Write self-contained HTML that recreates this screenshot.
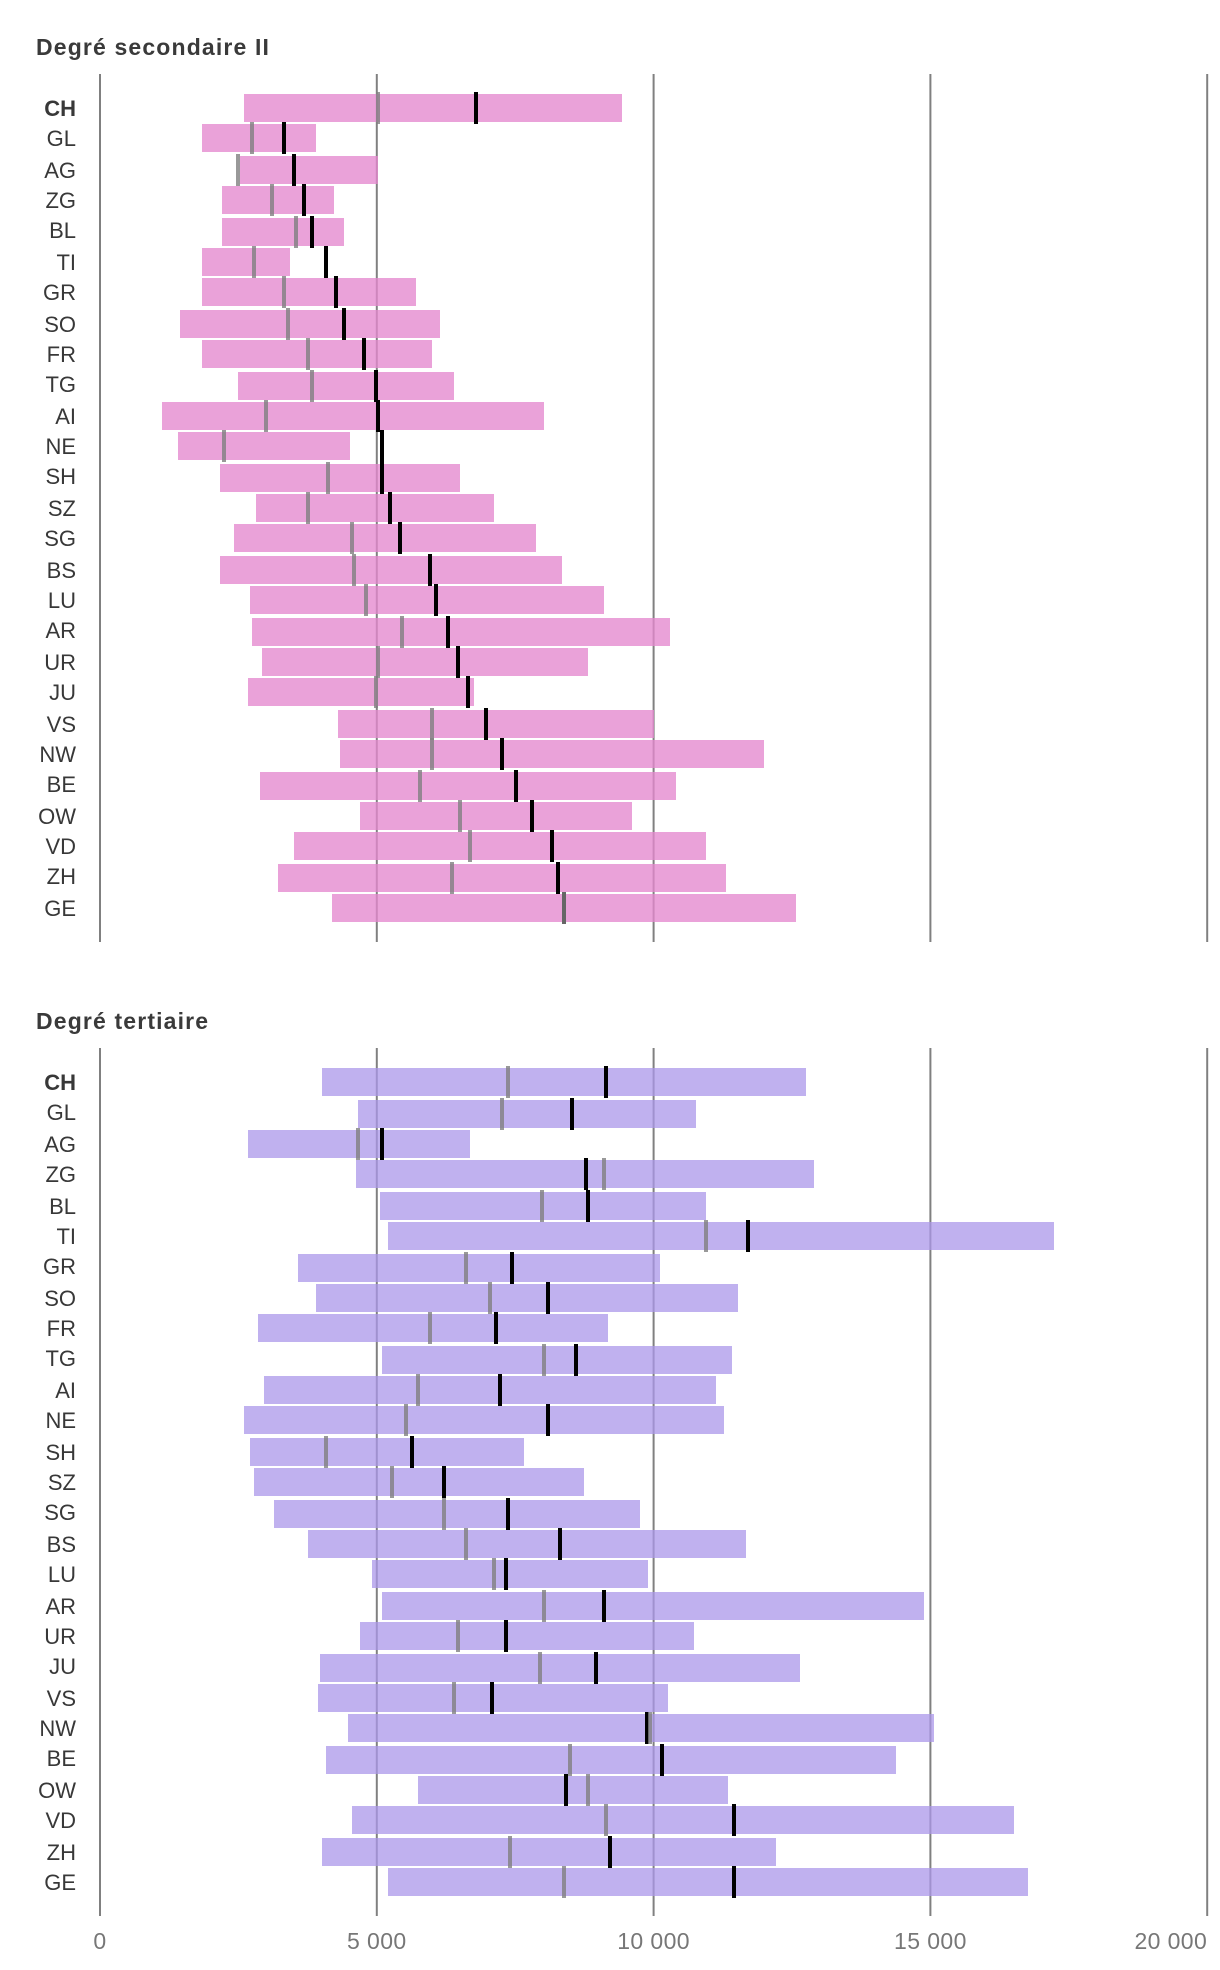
<!DOCTYPE html>
<html lang="fr">
<head>
<meta charset="utf-8">
<title>Degré secondaire II et degré tertiaire</title>
<style>
html,body{margin:0;padding:0;background:#fff;}
svg{display:block;font-family:"Liberation Sans",sans-serif;}
.title{font-size:23px;font-weight:700;fill:#3a3a3a;letter-spacing:1.15px;}
.cat{font-size:22px;fill:#383838;text-anchor:end;}
.tick{font-size:23px;fill:#777;letter-spacing:0.4px;}
</style>
</head>
<body>
<svg id="chart" width="1220" height="1970" viewBox="0 0 1220 1970" xmlns="http://www.w3.org/2000/svg">
  <text class="title" x="36" y="55">Degré secondaire II</text>
  <text class="title" x="36" y="1029">Degré tertiaire</text>
</svg>
<script>
const cantons = ["CH","GL","AG","ZG","BL","TI","GR","SO","FR","TG","AI","NE","SH","SZ","SG","BS","LU","AR","UR","JU","VS","NW","BE","OW","VD","ZH","GE"];
const tickValues = [0,5000,10000,15000,20000];
const tickLabels = ["0","5 000","10 000","15 000","20 000"];

const secondaryLow = [2603,1844,2522,2205,2205,1844,1844,1446,1844,2493,1121,1409,2168,2817,2419,2168,2707,2743,2928,2677,4300,4336,2891,4698,3503,3216,4189];
const secondaryHigh = [9433,3901,5015,4226,4410,3429,5708,6143,5996,6394,8024,4514,6505,7117,7877,8349,9108,10293,8820,6756,10007,11993,10400,9610,10943,11307,12571];
const secondaryGray = [5022,2743,2493,3105,3540,2780,3326,3393,3754,3828,3002,2242,4115,3754,4550,4587,4809,5457,5022,4986,5996,5996,5782,6505,6682,6357,8385];
const secondaryBlack = [6792,3326,3503,3688,3828,4086,4263,4410,4772,4986,5022,5096,5096,5236,5421,5959,6070,6284,6468,6645,6977,7264,7515,7803,8164,8275,8385];

const tertiaryLow = [4012,4661,2677,4624,5059,5207,3577,3901,2854,5096,2965,2603,2707,2780,3142,3761,4912,5096,4698,3975,3938,4484,4086,5745,4550,4012,5207];
const tertiaryHigh = [12750,10764,6682,12893,10943,17232,10114,11521,9182,11414,11121,11271,7663,8747,9750,11664,9893,14879,10729,12643,10257,15064,14379,11343,16507,12207,16757];
const tertiaryGray = [7368,7264,4661,9104,7987,10943,6615,7043,5959,8024,5745,5531,4086,5273,6217,6615,7117,8024,6468,7950,6394,9929,8489,8813,9136,7405,8385];
const tertiaryBlack = [9140,8526,5096,8784,8813,11700,7441,8090,7154,8599,7228,8090,5635,6217,7368,8312,7338,9108,7338,8961,7080,9879,10150,8422,11450,9207,11450];

const SVG_NS = "http://www.w3.org/2000/svg";
const svg = document.getElementById("chart");
const X0 = 100, PX_PER_UNIT = 1107.2 / 20000, STEP = 800 / 26, BAR_H = 28, TICK_W = 4, LABEL_OFFSET = 21.5;

function xScale(v) { return X0 + v * PX_PER_UNIT; }
function evenRound(v) { return Math.round(v / 2) * 2; }

function make(tag, attrs) {
  const el = document.createElementNS(SVG_NS, tag);
  for (const k in attrs) el.setAttribute(k, attrs[k]);
  return el;
}

function drawPanel(key, top, axisTop, axisBottom, color, opacity, low, high, gray, black) {
  const bandY = function (i) { return evenRound(top + i * STEP); };
  const labelY = function (i) { return evenRound(top + LABEL_OFFSET + i * STEP); };

  tickValues.forEach(function (t) {
    const line = make("line", { x1: xScale(t), x2: xScale(t), y1: axisTop, y2: axisBottom, stroke: "#808080", "stroke-width": 2 });
    
    
    svg.appendChild(line);
  });

  cantons.forEach(function (c, i) {
    const label = make("text", { class: "cat", x: 76, y: labelY(i) });
    
    
    if (c === "CH") label.setAttribute("font-weight", "700");
    label.textContent = c;
    svg.appendChild(label);

    const left = Math.round(xScale(low[i]));
    const right = Math.round(xScale(high[i]));
    const bar = make("rect", { x: left, y: bandY(i), width: right - left, height: BAR_H, fill: color, "fill-opacity": opacity });
    
    
    svg.appendChild(bar);
  });

  cantons.forEach(function (c, i) {
    const y = bandY(i);
    const blackMark = make("rect", { x: Math.round(xScale(black[i]) - TICK_W / 2), y: y - 2, width: TICK_W, height: BAR_H + 4, fill: "#000" });
    
    
    svg.appendChild(blackMark);

    const grayMark = make("rect", { x: Math.round(xScale(gray[i]) - TICK_W / 2), y: y - 2, width: TICK_W, height: BAR_H + 4, fill: "#808080", "fill-opacity": 0.8 });
    
    
    svg.appendChild(grayMark);
  });
}

drawPanel("secondary", 94.2, 74, 942, "#e488ce", 0.78, secondaryLow, secondaryHigh, secondaryGray, secondaryBlack);
drawPanel("tertiary", 1068.5, 1048, 1916, "#ab97e9", 0.75, tertiaryLow, tertiaryHigh, tertiaryGray, tertiaryBlack);

tickValues.forEach(function (t, i) {
  const last = i === tickValues.length - 1;
  const tick = make("text", { class: "tick", x: xScale(t), y: 1949, "text-anchor": last ? "end" : "middle" });
  
  
  tick.textContent = tickLabels[i];
  svg.appendChild(tick);
});
</script>
</body>
</html>
